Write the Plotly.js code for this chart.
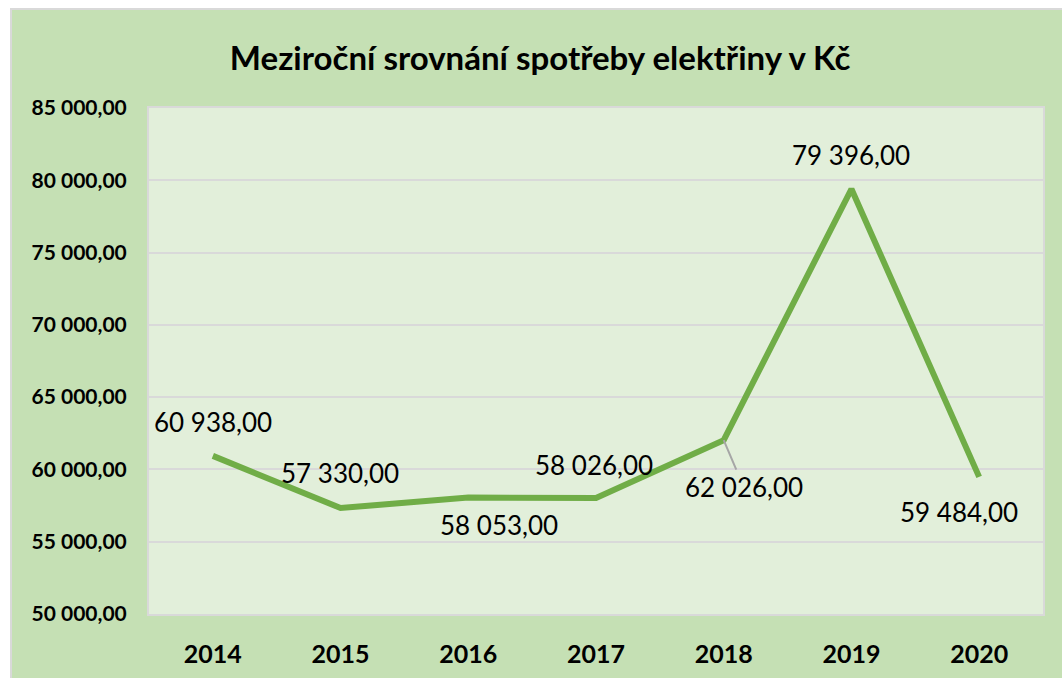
<!DOCTYPE html>
<html>
<head>
<meta charset="utf-8">
<script src="https://cdn.plot.ly/plotly-3.0.1.min.js"></script>
<style>
  html, body { margin: 0; padding: 0; background: #ffffff; }
  #chart { position: absolute; left: 10px; top: 8px; width: 1050px; height: 668px;
           border-left: 2px solid #d9d9d9; border-top: 2px solid #d9d9d9; }
</style>
</head>
<body>
<div id="chart"></div>
<script>
const years = ['2014', '2015', '2016', '2017', '2018', '2019', '2020'];
const values = [60938, 57330, 58053, 58026, 62026, 79396, 59484];
const yTicks = [50000, 55000, 60000, 65000, 70000, 75000, 80000, 85000];
const chartTitle = 'Meziroční srovnání spotřeby elektřiny v Kč';

// label offsets (pixels) relative to each point
const labelShift = [
  {dx: 0, dy: 34}, {dx: -1, dy: 35}, {dx: 31, dy: -27}, {dx: -2, dy: 33},
  {dx: 20, dy: -47, arrow: true}, {dx: 0, dy: 34}, {dx: -20, dy: -35}
];

function fmt(v) {
  const s = Math.round(v).toString().replace(/\B(?=(\d{3})+(?!\d))/g, ' ');
  return s + ',00';
}

const annotations = values.map((v, i) => {
  const o = labelShift[i];
  const base = {
    x: i, y: v, xref: 'x', yref: 'y', text: fmt(v),
    font: {family: 'Lato, sans-serif', size: 26, color: '#000000'}
  };
  if (o.arrow) {
    return Object.assign(base, {showarrow: true, arrowhead: 0, arrowwidth: 2,
      arrowcolor: '#a6a6a6', ax: o.dx, ay: -o.dy, standoff: 0});
  }
  return Object.assign(base, {showarrow: false, xshift: o.dx, yshift: o.dy});
});

const trace = {
  x: years, y: values, type: 'scatter', mode: 'lines',
  line: {color: '#70ad47', width: 6, shape: 'linear'},
  hoverinfo: 'skip'
};

const layout = {
  width: 1050, height: 668,
  paper_bgcolor: '#c5e0b4', plot_bgcolor: '#e2efda',
  separators: ', ',
  margin: {l: 137, r: 19, t: 98, b: 64},
  showlegend: false,
  title: {text: '<b>' + chartTitle + '</b>', x: 0.503, xanchor: 'center',
          y: 0.928, yanchor: 'middle', yref: 'container',
          font: {family: 'Lato, sans-serif', size: 33, color: '#000000'}},
  xaxis: {type: 'category', range: [-0.5, 6.5], showgrid: false, zeroline: false,
          showline: true, mirror: true, linecolor: '#d9d9d9', linewidth: 2,
          ticks: '', ticklabelstandoff: 17,
          tickfont: {family: 'Lato, sans-serif', size: 25, color: '#000000', weight: 'bold'}},
  yaxis: {range: [50000, 85000], tickvals: yTicks, tickformat: ',.2f',
          showgrid: true, gridcolor: '#d9d9d9', gridwidth: 2, zeroline: false,
          showline: true, mirror: true, linecolor: '#d9d9d9', linewidth: 2,
          ticks: '', ticklabelstandoff: 16,
          tickfont: {family: 'Lato, sans-serif', size: 21, color: '#000000', weight: 'bold'}},
  annotations: annotations
};

Plotly.newPlot('chart', [trace], layout, {displayModeBar: false, staticPlot: true});
</script>
</body>
</html>
